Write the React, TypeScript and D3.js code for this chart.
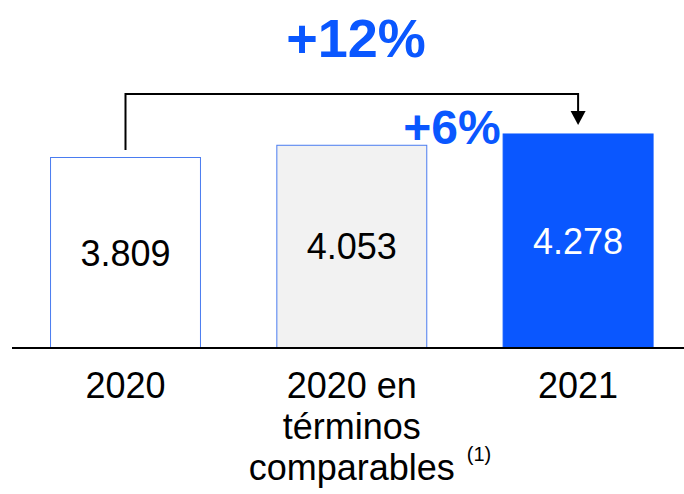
import React from "react";
import * as d3 from "d3";

const categories = ["2020", "2020 en términos comparables", "2021"];
const categoryLines = [["2020"], ["2020 en", "términos", "comparables"], ["2021"]];
const values = [3809, 4053, 4278];
const valueLabels = ["3.809", "4.053", "4.278"];
const growthTotal = "+12%";
const growthComparable = "+6%";
const footnote = "(1)";

const W = 684;
const H = 494;
const BLUE = "#0a57ff";
const FONT = "'Liberation Sans', Arial, sans-serif";

export default function App() {
  const baseY = 348;
  const x = d3
    .scaleBand<string>()
    .domain(categories)
    .range([12.35, 691.25])
    .paddingInner(0.333)
    .paddingOuter(0.1665);
  const y = d3.scaleLinear().domain([0, 6940]).range([baseY, 0]);
  const bw = x.bandwidth();
  const cx = (i: number) => (x(categories[i]) as number) + bw / 2;

  const fills = ["#ffffff", "#f2f2f2", BLUE];
  const strokes = ["#4a7cf0", "#4a7cf0", BLUE];
  const textFills = ["#000", "#000", "#fff"];

  const bracketY = 94;
  const leftX = cx(0);
  const rightX = cx(2);
  const tipY = 125;

  return (
    <svg
      width={W}
      height={H}
      style={{ position: "absolute", left: 0, top: 0, background: "#fff" }}
      fontFamily={FONT}
    >
      {values.map((v, i) => {
        const x0 = x(categories[i]) as number;
        const top = y(v);
        return (
          <g key={i}>
            <rect
              x={x0 + 0.5}
              y={top + 0.5}
              width={bw - 1}
              height={baseY - top - 0.5}
              fill={fills[i]}
              stroke={strokes[i]}
              strokeWidth={1}
            />
            <text
              x={cx(i)}
              y={(top + baseY) / 2 + 13}
              textAnchor="middle"
              fontSize={36}
              fill={textFills[i]}
            >
              {valueLabels[i]}
            </text>
          </g>
        );
      })}
      <line x1={12} x2={684} y1={baseY} y2={baseY} stroke="#000" strokeWidth={2} />
      {categoryLines.map((lines, i) =>
        lines.map((l, j) => (
          <text
            key={i + "-" + j}
            x={cx(i)}
            y={398 + j * 41}
            textAnchor="middle"
            fontSize={36}
            fill="#000"
          >
            {l}
          </text>
        ))
      )}
      <text x={479} y={461} textAnchor="middle" fontSize={20} fill="#000">
        {footnote}
      </text>
      <path
        d={`M${leftX},150 V${bracketY} H${rightX} V${tipY - 13}`}
        fill="none"
        stroke="#000"
        strokeWidth={2}
      />
      <path
        d={`M${rightX - 7.5},${tipY - 14} L${rightX + 7.5},${tipY - 14} L${rightX},${tipY} Z`}
        fill="#000"
      />
      <text
        x={356}
        y={57}
        textAnchor="middle"
        fontSize={54}
        fontWeight="bold"
        fill={BLUE}
      >
        {growthTotal}
      </text>
      <text
        x={452}
        y={144}
        textAnchor="middle"
        fontSize={48}
        fontWeight="bold"
        fill={BLUE}
      >
        {growthComparable}
      </text>
    </svg>
  );
}
